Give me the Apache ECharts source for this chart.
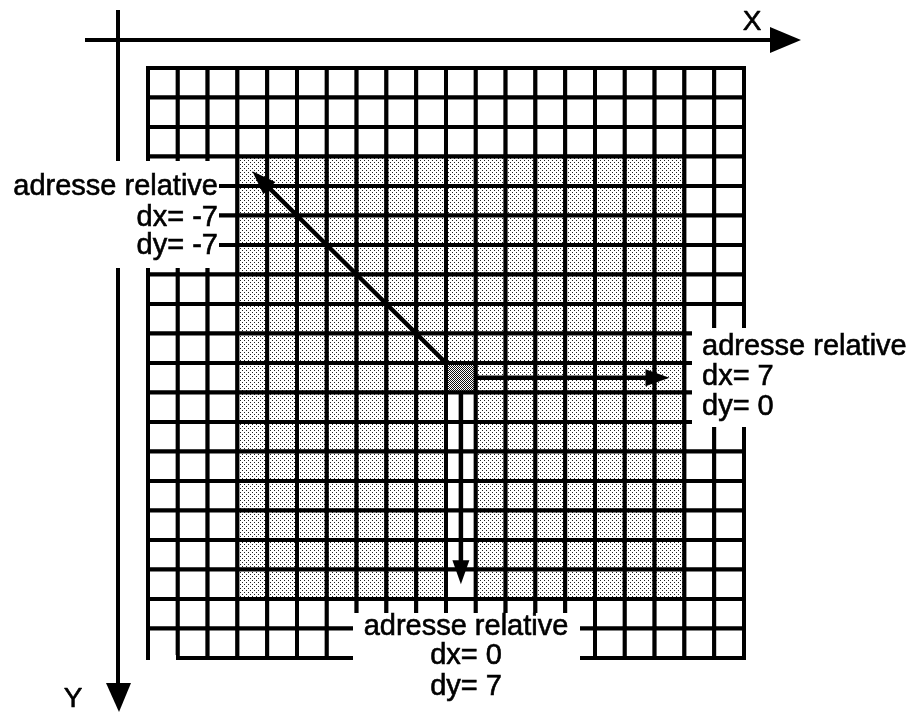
<!DOCTYPE html>
<html><head><meta charset="utf-8">
<script src="https://cdn.jsdelivr.net/npm/echarts/dist/echarts.min.js"></script>
<style>html,body{margin:0;padding:0;background:#fff}#c{width:913px;height:713px}</style>
</head><body><div id="c"></div>
<script>
// ---- data ----
var gridCols = 20;                 // columns of the memory grid
var gridRows = 20;                 // rows of the memory grid
var shadeFrom = 3;                 // first shaded column/row index
var shadeTo = 17;                  // last shaded column/row index
var centerCell = [10, 10];         // reference cell (column, row)
var arrowDx = [-7, 7, 0];          // relative addresses shown by arrows
var arrowDy = [-7, 0, 7];
var clearUnderDown = [11, 12, 13, 14, 15, 16, 17]; // rows of the centre column left blank under the down arrow
var labelTitle = 'adresse relative';
var axisNames = ['X', 'Y'];

// ---- build tables ----
var cells = [];
for (var r = 0; r < gridRows; r++) {
  for (var c = 0; c < gridCols; c++) {
    var t = (c >= shadeFrom && c <= shadeTo && r >= shadeFrom && r <= shadeTo) ? 1 : 0;
    if (c === centerCell[0] && clearUnderDown.indexOf(r) >= 0) t = 0;
    if (c === centerCell[0] && r === centerCell[1]) t = 2;
    cells.push([c, r, t]);
  }
}
var arrows = [];
for (var i = 0; i < arrowDx.length; i++) {
  var dx = arrowDx[i], dy = arrowDy[i];
  var sx, sy;
  if (dx !== 0 && dy !== 0) { sx = centerCell[0]; sy = centerCell[1]; }
  else if (dx !== 0) { sx = centerCell[0] + 1; sy = centerCell[1] + 0.5; }
  else { sx = centerCell[0] + 0.5; sy = centerCell[1] + 1; }
  arrows.push([sx, sy, centerCell[0] + dx + 0.5, centerCell[1] + dy + 0.5]);
}

function makePattern(dots, size, col) {
  var cv = document.createElement('canvas');
  cv.width = size; cv.height = size;
  var ctx = cv.getContext('2d');
  ctx.fillStyle = '#fff'; ctx.fillRect(0, 0, size, size);
  ctx.fillStyle = col;
  dots.forEach(function (d) { ctx.fillRect(d[0], d[1], 1, 1); });
  return { image: cv, repeat: 'repeat' };
}
var fills = [
  '#ffffff',
  makePattern([[0, 0], [2, 2]], 4, '#222'),
  makePattern([[0, 0], [1, 1]], 2, '#111')
];

var chart = echarts.init(document.getElementById('c'), null, { renderer: 'canvas' });
var F = "'Liberation Sans', Arial, Helvetica, sans-serif";

function txt(str, x, y, align) {
  return { type: 'text', z: 110, x: x, y: y,
    style: { text: str, fill: '#000', stroke: '#000', lineWidth: 0.6, font: '29px ' + F, textAlign: align, textVerticalAlign: 'middle' } };
}
function white(x, y, w, h) {
  return { type: 'rect', z: 100, shape: { x: x, y: y, width: w, height: h }, style: { fill: '#fff' } };
}

var option = {
  animation: false,
  backgroundColor: '#fff',
  grid: { left: 148, top: 68, width: 596, height: 590, containLabel: false },
  xAxis: { type: 'value', min: 0, max: gridCols, show: false },
  yAxis: { type: 'value', min: 0, max: gridRows, inverse: true, show: false },
  series: [
    {
      type: 'custom', z: 2,
      data: cells,
      renderItem: function (params, api) {
        var c = api.value(0), r = api.value(1), t = api.value(2);
        var p0 = api.coord([c, r]), p1 = api.coord([c + 1, r + 1]);
        return { type: 'rect',
          shape: { x: p0[0], y: p0[1], width: p1[0] - p0[0], height: p1[1] - p0[1] },
          style: { fill: fills[t], stroke: '#000', lineWidth: 4 } };
      }
    },
    {
      type: 'custom', z: 5,
      data: arrows,
      renderItem: function (params, api) {
        var s = api.coord([api.value(0), api.value(1)]);
        var e = api.coord([api.value(2), api.value(3)]);
        var vx = e[0] - s[0], vy = e[1] - s[1];
        var len = Math.sqrt(vx * vx + vy * vy);
        var ux = vx / len, uy = vy / len, nx = -uy, ny = ux;
        var L = 24, W = 8.5;
        var bx = e[0] - ux * L, by = e[1] - uy * L;
        return { type: 'group', children: [
          { type: 'line', shape: { x1: s[0], y1: s[1], x2: bx + ux * 2, y2: by + uy * 2 },
            style: { stroke: '#000', lineWidth: 4.5 } },
          { type: 'polygon', shape: { points: [[e[0], e[1]], [bx + nx * W, by + ny * W], [bx - nx * W, by - ny * W]] },
            style: { fill: '#000' } }
        ] };
      }
    }
  ],
  graphic: [
    // X axis
    { type: 'line', z: 90, shape: { x1: 85, y1: 40, x2: 775, y2: 40 }, style: { stroke: '#000', lineWidth: 4 } },
    { type: 'polygon', z: 90, shape: { points: [[770, 27], [801, 40], [770, 53]] }, style: { fill: '#000' } },
    // Y axis
    { type: 'line', z: 90, shape: { x1: 118, y1: 10, x2: 118, y2: 688 }, style: { stroke: '#000', lineWidth: 4 } },
    { type: 'polygon', z: 90, shape: { points: [[106, 683], [131, 683], [119, 712]] }, style: { fill: '#000' } },
    { type: 'text', z: 110, x: 752, y: 22, style: { text: axisNames[0], fill: '#000', stroke: '#000', lineWidth: 0.6, font: '28px ' + F, textAlign: 'center', textVerticalAlign: 'middle' } },
    { type: 'text', z: 110, x: 73, y: 699, style: { text: axisNames[1], fill: '#000', stroke: '#000', lineWidth: 0.6, font: '28px ' + F, textAlign: 'center', textVerticalAlign: 'middle' } },
    // occluders behind the labels
    white(0, 161, 219, 107),
    white(353, 613, 227, 100),
    white(692, 328, 221, 99),
    white(150, 655, 26, 8),
    // left label
    txt(labelTitle, 218, 187, 'right'),
    txt('dx= ' + arrowDx[0], 218, 218, 'right'),
    txt('dy= ' + arrowDy[0], 218, 246, 'right'),
    // right label
    txt(labelTitle, 702, 347, 'left'),
    txt('dx= ' + arrowDx[1], 702, 377, 'left'),
    txt('dy= ' + arrowDy[1], 702, 407, 'left'),
    // bottom label
    txt(labelTitle, 466, 627, 'center'),
    txt('dx= ' + arrowDx[2], 466, 656, 'center'),
    txt('dy= ' + arrowDy[2], 466, 687, 'center')
  ]
};
chart.setOption(option);
</script>
</body></html>
